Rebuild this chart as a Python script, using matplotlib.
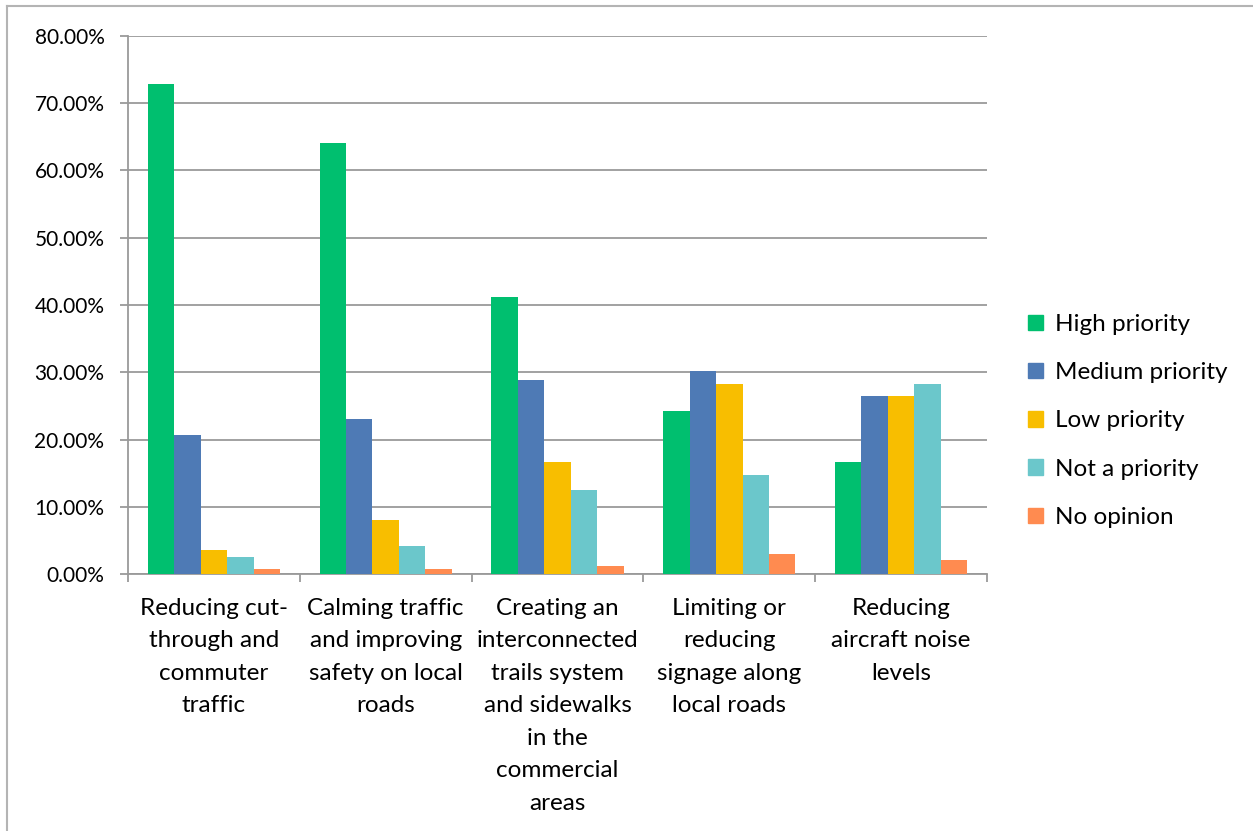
import matplotlib
matplotlib.use("Agg")
import matplotlib.pyplot as plt
from matplotlib.ticker import PercentFormatter, MultipleLocator, FixedLocator
from matplotlib.patches import Rectangle
from matplotlib.lines import Line2D
import numpy as np

categories = [
    "Reducing cut-\nthrough and\ncommuter\ntraffic",
    "Calming traffic\nand improving\nsafety on local\nroads",
    "Creating an\ninterconnected\ntrails system\nand sidewalks\nin the\ncommercial\nareas",
    "Limiting or\nreducing\nsignage along\nlocal roads",
    "Reducing\naircraft noise\nlevels",
]
series_names = ["High priority", "Medium priority", "Low priority",
                "Not a priority", "No opinion"]
high_priority = [72.8, 64.1, 41.2, 24.2, 16.7]
medium_priority = [20.6, 23.0, 28.8, 30.2, 26.4]
low_priority = [3.5, 8.1, 16.6, 28.3, 26.4]
not_a_priority = [2.5, 4.2, 12.5, 14.7, 28.2]
no_opinion = [0.7, 0.7, 1.2, 2.9, 2.1]
colors = ["#00BF6F", "#4E7AB5", "#F8BE00", "#6BC7CB", "#FF8B50"]

plt.rcParams["font.family"] = ["Lato", "DejaVu Sans"]
FS = 17.5
FS_TICK = 15

W, H = 1253, 831
fig = plt.figure(figsize=(W / 100, H / 100), dpi=100)
ax = fig.add_axes([128 / W, 1 - 574 / H, (987 - 128) / W, (574 - 36) / H])

values = [high_priority, medium_priority, low_priority, not_a_priority, no_opinion]
n = len(values)
x = np.arange(len(categories))
bw = 1 / (n + 1.5)
for i, (vals, name, c) in enumerate(zip(values, series_names, colors)):
    ax.bar(x + (i - (n - 1) / 2) * bw, vals, width=bw, color=c, label=name,
           zorder=3)

ax.set_xlim(-0.5, len(categories) - 0.5)
ax.set_ylim(0, 80)
ax.yaxis.set_major_locator(MultipleLocator(10))
ax.yaxis.set_major_formatter(PercentFormatter(xmax=100, decimals=2))
ax.grid(axis="y", color="#9A9A9A", linewidth=1.3, zorder=0)
ax.set_axisbelow(True)

ax.set_xticks(x)
ax.set_xticklabels(categories, fontsize=FS, linespacing=1.68, color="#000000")
ax.tick_params(axis="x", which="major", length=0, pad=17)
ax.xaxis.set_minor_locator(FixedLocator(np.arange(-0.5, len(categories), 1.0)))
ax.tick_params(axis="x", which="minor", length=6, width=1.3, color="#9A9A9A",
               direction="out")
ax.tick_params(axis="y", length=6, width=1.3, color="#9A9A9A", labelsize=FS_TICK,
               pad=11, labelcolor="#000000")

for side in ["top", "right"]:
    ax.spines[side].set_visible(False)
for side in ["left", "bottom"]:
    ax.spines[side].set_color("#9A9A9A")
    ax.spines[side].set_linewidth(1.3)

handles = [Rectangle((0, 0), 1, 1, color=c) for c in colors]
fig.legend(handles, series_names, loc="center left",
           bbox_to_anchor=(1016 / W, 1 - 421 / H), frameon=False,
           fontsize=FS, handlelength=0.6, handleheight=0.6,
           handletextpad=0.5, labelspacing=1.12, borderpad=0)

# outer chart border (left and top edges)
fig.add_artist(Line2D([7 / W, 7 / W], [0, 1 - 6 / H], transform=fig.transFigure,
                      color="#B4B4B4", linewidth=1.5))
fig.add_artist(Line2D([7 / W, 1], [1 - 6 / H, 1 - 6 / H], transform=fig.transFigure,
                      color="#B4B4B4", linewidth=1.5))

fig.savefig("out.png", dpi=100, facecolor="white")
